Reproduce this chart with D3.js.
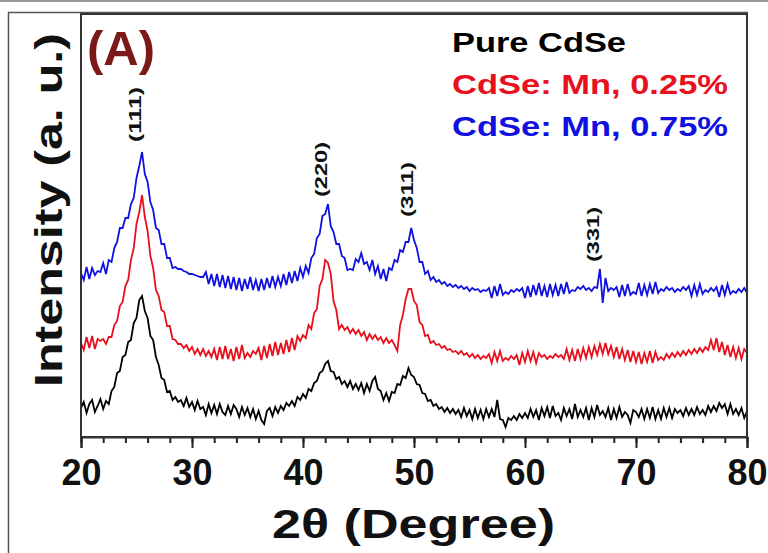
<!DOCTYPE html>
<html>
<head>
<meta charset="utf-8">
<script src="https://cdn.jsdelivr.net/npm/d3@7"></script>
<style>
  html, body { margin: 0; padding: 0; background: #fff; }
  svg { display: block; font-family: "Liberation Sans", Arial, sans-serif; font-weight: bold; }
</style>
</head>
<body>
<svg id="chart" width="768" height="553"></svg>
<script>
// 2θ grid: 20° to 80° every 0.25° (one row of 4 values per degree)
const thetaStart = 20, thetaStep = 0.25;

const pureCdSe = [
  29,35,24,33, 37,25,31,38, 28,36,33,46, 50,64,66,80, 82,95,97,114,
  119,137,141,126, 119,101,97,80, 72,59,57,45, 46,37,40,35, 37,31,39,30,
  35,27,36,28, 30,22,33,24, 32,23,33,25, 22,31,23,32, 28,20,30,22,
  29,20,28,18, 26,17,13,26, 29,21,30,24, 31,27,34,31, 36,31,40,37,
  43,39,48,46, 54,56,64,66, 73,76,66,65, 58,60,53,56, 50,56,48,53,
  47,54,44,53, 46,56,60,48, 46,37,44,36, 45,44,53,52, 61,59,69,62,
  60,53,52,44, 43,36,37,31, 33,28,30,25, 29,24,28,23, 27,20,29,21,
  27,18,28,19, 27,18,28,20, 28,20,37,18, 17,10,19,17, 21,17,23,19,
  24,19,28,20, 27,17,29,21, 30,19,31,21, 24,17,29,21, 28,18,33,20,
  27,20,29,17, 29,20,32,22, 26,20,29,17, 28,19,30,20, 25,22,14,27,
  25,20,28,18, 28,19,30,18, 27,18,29,20, 29,19,28,24, 27,21,29,22,
  28,22,30,23, 27,22,31,25, 31,26,34,29, 33,23,33,23, 28,22,29,19,
  26
];

const mn025 = [
  94,87,100,89, 101,88,98,96, 98,93,100,100, 112,116,131,135, 151,157,177,189,
  213,225,242,220, 206,181,169,147, 141,127,125,111, 111,98,97,93, 93,89,92,86,
  90,83,88,82, 88,81,86,80, 88,77,90,78, 91,78,88,76, 90,78,92,79,
  84,80,86,83, 89,77,91,79, 93,81,95,82, 94,83,97,85, 99,87,101,96,
  102,99,112,108, 124,128,151,158, 177,174,163,136, 127,108,112,107, 110,104,108,103,
  107,101,105,97, 103,98,102,97, 100,94,99,94, 97,92,86,112, 122,138,148,148,
  136,132,115,112, 101,102,94,96, 92,93,89,91, 87,88,85,86, 83,86,82,84,
  80,83,79,82, 78,81,79,83, 74,85,76,86, 76,79,77,81, 78,82,72,84,
  75,86,76,85, 74,84,80,82, 78,81,79,83, 80,82,78,88, 77,87,76,88,
  78,89,79,90, 80,91,82,93, 83,94,83,91, 80,90,78,88, 77,87,75,86,
  75,85,73,84, 75,86,74,85, 77,80,77,83, 79,84,80,85, 81,86,82,87,
  83,88,84,89, 85,90,87,97, 87,99,85,95, 82,92,80,90, 79,89,78,88,
  84
];

const mn075 = [
  164,157,170,158, 169,162,166,165, 174,163,177,175, 189,195,209,209, 219,219,233,239,
  259,271,285,263, 255,235,227,209, 207,193,193,179, 179,169,170,168, 168,166,165,163,
  163,162,161,160, 160,165,153,163, 151,163,150,162, 149,161,148,160, 147,159,146,158,
  148,160,147,157, 146,158,147,159, 149,161,150,160, 151,163,152,165, 154,166,156,169,
  160,171,164,179, 183,199,203,221, 223,233,211,205, 193,193,181,179, 167,168,167,178,
  175,184,173,175, 167,177,163,171, 158,168,156,169, 167,177,175,187, 185,195,195,209,
  197,189,175,175, 163,166,157,160, 155,157,153,155, 151,153,150,152, 149,151,148,150,
  146,149,147,148, 145,147,146,149, 139,151,141,153, 142,145,143,147, 145,148,146,149,
  139,151,140,152, 142,154,141,151, 140,153,142,152, 141,153,143,155, 144,147,146,150,
  148,151,147,149, 146,150,149,168, 134,159,146,149, 147,150,140,152, 141,153,142,145,
  143,154,141,152, 142,153,143,155, 144,148,146,150, 147,149,145,148, 146,150,147,151,
  141,152,142,153, 143,147,145,149, 146,150,140,152, 142,153,143,146, 144,148,145,149,
  144
];

const seriesNames = ['Pure CdSe', 'CdSe: Mn, 0.25%', 'CdSe: Mn, 0.75%'];
const seriesColors = ['#000000', '#e8101c', '#1010e0'];

const hklLabels = ['(111)', '(220)', '(311)', '(331)'];
const hklTheta = [25.3, 42.1, 49.8, 66.6];
const hklIntensity = [295, 240, 220, 175];

const xTicks = [20, 30, 40, 50, 60, 70, 80];

const svg = d3.select('#chart');
const plot = { left: 81, right: 747, top: 14, bottom: 437 };

const x = d3.scaleLinear().domain([20, 80]).range([plot.left, plot.right]);
const y = d3.scaleLinear().domain([0, 423]).range([plot.bottom, plot.top]);

// outer figure borders
svg.append('line').attr('x1', 0).attr('x2', 768).attr('y1', 1).attr('y2', 1)
  .attr('stroke', '#9a9a9a').attr('stroke-width', 2);
svg.append('path').attr('d', 'M8.5,553 V12.5 H748')
  .attr('fill', 'none').attr('stroke', '#555').attr('stroke-width', 1.5);

// data lines
const allSeries = [pureCdSe, mn025, mn075];
const line = d3.line()
  .x((d, i) => x(thetaStart + i * thetaStep))
  .y(d => y(d));

svg.append('g').selectAll('path')
  .data(allSeries)
  .enter().append('path')
  .attr('d', line)
  .attr('fill', 'none')
  .attr('stroke', (d, i) => seriesColors[i])
  .attr('stroke-width', 1.8)
  .attr('stroke-linejoin', 'miter');

// frame
svg.append('rect')
  .attr('x', plot.left).attr('y', plot.top)
  .attr('width', plot.right - plot.left).attr('height', plot.bottom - plot.top)
  .attr('fill', 'none').attr('stroke', '#333').attr('stroke-width', 2);

// minor ticks
svg.append('g')
  .attr('transform', `translate(0,${plot.bottom})`)
  .call(d3.axisBottom(x).tickValues(d3.range(20, 81, 2)).tickSize(6).tickFormat(''))
  .call(g => g.select('.domain').remove())
  .call(g => g.selectAll('line').attr('stroke', '#222').attr('stroke-width', 2));

// major ticks + labels
svg.append('g')
  .attr('transform', `translate(0,${plot.bottom})`)
  .call(d3.axisBottom(x).tickValues(xTicks).tickSize(11).tickFormat(d3.format('d')))
  .call(g => g.select('.domain').attr('stroke', '#333').attr('stroke-width', 2))
  .call(g => g.selectAll('line').attr('stroke', '#222').attr('stroke-width', 2))
  .call(g => g.selectAll('text')
    .attr('dy', null).attr('y', 48)
    .attr('fill', '#111')
    .style('font-size', '36px').style('font-weight', 'bold')
    .style('font-family', '"Liberation Sans", Arial, sans-serif'));

// axis titles
svg.append('text')
  .attr('x', 272).attr('y', 538)
  .attr('textLength', 283).attr('lengthAdjust', 'spacingAndGlyphs')
  .style('font-size', '41px').attr('fill', '#111')
  .text('2θ (Degree)');

svg.append('text')
  .attr('transform', 'translate(62,387) rotate(-90)')
  .attr('textLength', 354).attr('lengthAdjust', 'spacingAndGlyphs')
  .style('font-size', '39px').attr('fill', '#111')
  .text('Intensity (a. u.)');

// panel tag
svg.append('text')
  .attr('x', 87).attr('y', 65)
  .style('font-size', '49px').attr('fill', '#7b1818')
  .text('(A)');

// legend
const legendLengths = [174, 276, 276];
svg.append('g').selectAll('text')
  .data(seriesNames)
  .enter().append('text')
  .attr('x', 452)
  .attr('y', (d, i) => 52 + i * 42)
  .attr('textLength', (d, i) => legendLengths[i])
  .attr('lengthAdjust', 'spacingAndGlyphs')
  .style('font-size', '27px')
  .attr('fill', (d, i) => seriesColors[i])
  .text(d => d);

// hkl labels
svg.append('g').selectAll('text')
  .data(hklLabels)
  .enter().append('text')
  .attr('transform', (d, i) => `translate(${x(hklTheta[i]) + 1},${y(hklIntensity[i])}) rotate(-90)`)
  .attr('textLength', 55).attr('lengthAdjust', 'spacingAndGlyphs')
  .style('font-size', '17px').attr('fill', '#111')
  .text(d => d);
</script>
</body>
</html>
